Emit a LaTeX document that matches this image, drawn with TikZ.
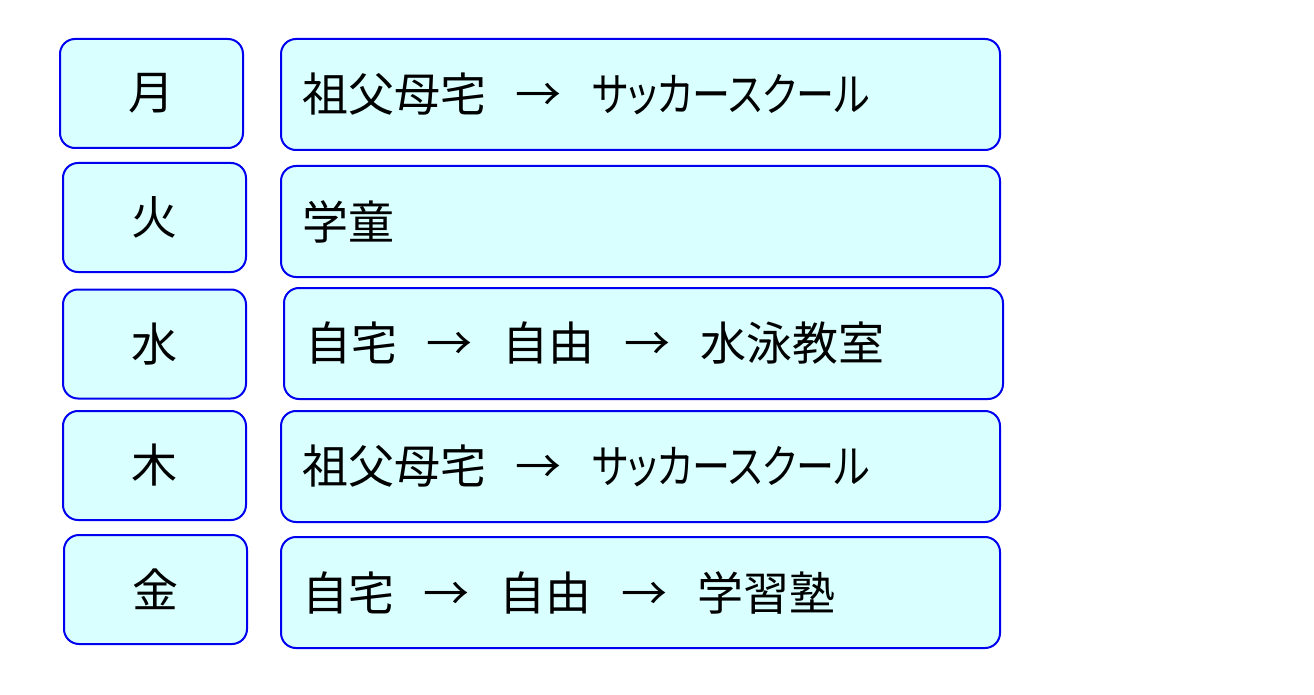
\documentclass[tikz,border=0pt]{standalone}
\usepackage{fontspec}
\usepackage{graphicx}
\newfontfamily\jp{Noto Sans CJK JP}
\definecolor{boxfill}{HTML}{D9FFFF}
\definecolor{boxline}{HTML}{0000F0}
\begin{document}
\begin{tikzpicture}[x=1pt,y=-1pt,
  box/.style={draw=boxline, fill=boxfill, line width=2pt, rounded corners=15pt,
    font=\jp\fontsize{46}{46}\selectfont, inner sep=0pt},
  daybox/.style={box, minimum width=183pt, minimum height=109pt},
  planbox/.style={box, text width=677pt, inner xsep=21pt, align=left, minimum height=111pt}]
\fill[white] (0,0) rectangle (1314,695);
\useasboundingbox (0,0) rectangle (1314,695);
\newcommand{\arr}{\hspace{30pt}→\hspace{30pt}}
\newcommand{\kana}[2]{\resizebox{#1}{\height}{\addfontfeature{RawFeature=+palt}#2}}
\node[daybox] (d1) at (151.5,93.5) {月};
\node[daybox] (d2) at (154.5,217.5) {火};
\node[daybox] (d3) at (154.5,344) {水};
\node[daybox] (d4) at (154.5,465.5) {木};
\node[daybox] (d5) at (155.5,589.5) {金};
\node[planbox] (p1) at (640.5,94.5) {祖父母宅\arr\kana{278pt}{サッカースクール}};
\node[planbox] (p2) at (640.5,221.5) {学童};
\node[planbox] (p3) at (643.5,343.5) {自宅\arr 自由\arr 水泳教室};
\node[planbox] (p4) at (640.5,466.5) {祖父母宅\arr\kana{278pt}{サッカースクール}};
\node[planbox] (p5) at (640.5,592.5) {自宅\arr 自由\arr 学習塾};
\end{tikzpicture}
\end{document}
